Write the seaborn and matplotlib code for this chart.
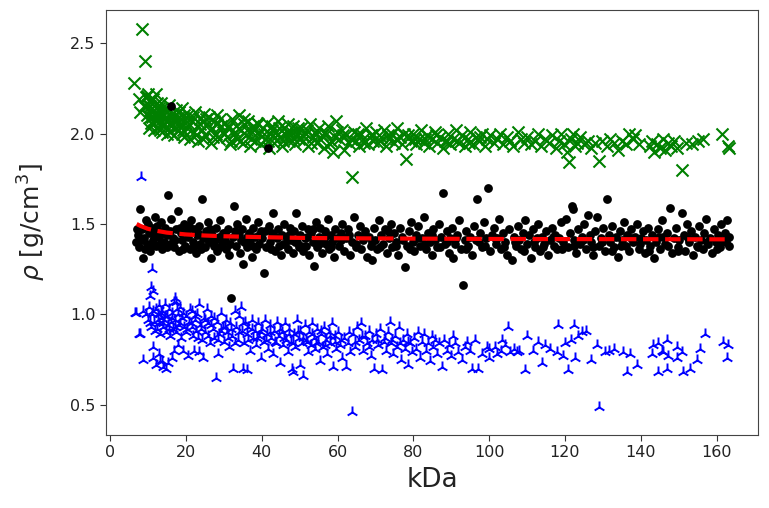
import matplotlib
matplotlib.use("Agg")
import matplotlib.pyplot as plt
import seaborn as sns

# ---------------- data ----------------
green_x = [6.3, 8.4, 9.2, 7.6, 8.0, 9.0, 9.5, 10.0, 10.3, 9.8, 10.5, 10.8,
           9.6, 10.1, 10.4, 10.7, 11.0, 11.2, 11.5, 11.8, 12.0, 12.2, 12.5, 12.8,
           13.1, 13.4, 13.7, 14.0, 14.3, 14.6, 15.0, 15.3, 15.6, 16.0, 16.4, 16.8,
           17.1, 17.5, 17.9, 18.3, 18.7, 19.0, 19.4, 19.8,
           10.2, 11.3, 12.4, 13.3, 13.9, 14.8, 15.8, 17.0, 18.0, 19.2,
           20.2, 20.6, 21.0, 21.5, 22.0, 22.4, 22.9, 23.3, 23.8, 24.2, 24.7, 25.1,
           25.6, 26.0, 26.5, 27.0, 27.4, 27.9, 28.3, 28.8, 29.3, 29.8,
           30.3, 30.8, 31.2, 31.7, 32.2, 32.6, 33.1, 33.6, 34.0, 34.5, 35.0, 35.4,
           35.9, 36.4, 36.9, 37.3, 37.8, 38.3, 38.8, 39.3, 39.8,
           40.3, 40.8, 41.3, 41.8, 42.3, 42.8, 43.3, 43.8, 44.3, 44.8, 45.3, 45.8,
           46.3, 46.8, 47.3, 47.8, 48.3, 48.8, 49.3, 49.8,
           50.4, 51.0, 51.6, 52.2, 52.8, 53.4, 54.0, 54.6, 55.2, 55.8, 56.4, 57.0,
           57.6, 58.2, 58.8, 59.6, 59.9,
           60.5, 61.1, 61.7, 62.3, 62.9, 63.9, 64.4, 65.0, 65.6, 66.2, 66.8, 67.5,
           68.1, 68.8, 69.4,
           70.1, 70.8, 71.5, 72.2, 72.9, 73.6, 74.3, 75.0, 75.7, 76.4, 77.1, 78.0,
           78.6, 79.3,
           80.0, 80.7, 81.4, 82.1, 82.8, 83.5, 84.2, 84.9, 85.6, 86.3, 87.0, 87.7,
           88.4, 89.1, 89.8,
           90.5, 91.2, 92.0, 92.8, 93.5, 94.3, 95.0, 95.8, 96.5, 97.3, 98.0, 98.8, 99.5,
           100.3, 101.2, 102.0, 102.9, 103.7, 104.6, 105.5, 106.4, 107.6, 108.3, 109.2,
           110.1, 111.0, 112.0, 112.9, 113.8, 114.8, 115.7, 116.7, 117.6, 118.5, 119.0, 119.8,
           120.5, 121.0, 121.5, 122.0, 122.6, 123.3, 124.0, 125.0, 126.0, 127.0, 128.0,
           129.0, 129.8,
           131.0, 132.0, 133.0, 134.0, 135.0, 136.0, 137.0, 138.0, 138.6, 139.5,
           142.5, 143.0, 143.5, 144.2, 145.0, 145.8, 146.5, 147.2, 148.0, 148.8, 149.5,
           151.0, 152.0, 153.5, 155.0, 156.5, 161.5, 163.0, 163.2]
green_rho = [2.28, 2.58, 2.40, 2.19, 2.12, 2.15, 2.20, 2.22, 2.18, 2.10, 2.13, 2.06,
             2.21, 2.16, 2.09, 2.19, 2.12, 2.05, 2.15, 2.08, 2.22, 2.11, 2.03, 2.14,
             2.07, 2.17, 2.01, 2.10, 2.05, 2.13, 2.00, 2.08, 2.16, 2.04, 2.11, 1.99,
             2.07, 2.13, 2.02, 2.09, 2.05, 2.14, 1.98, 2.06,
             2.03, 2.19, 2.17, 2.12, 2.04, 2.09, 2.06, 2.10, 2.06, 2.02,
             2.03, 2.10, 1.97, 2.07, 2.01, 2.12, 2.04, 1.96, 2.08, 2.02, 2.11, 1.99,
             2.05, 2.09, 1.95, 2.03, 2.07, 2.00, 2.10, 1.97, 2.04, 2.01,
             2.06, 1.98, 2.03, 1.94, 2.08, 2.00, 2.04, 1.97, 2.10, 2.02, 1.95, 2.05,
             1.99, 2.07, 1.93, 2.01, 2.04, 1.96, 2.06, 2.00, 1.94,
             2.03, 1.97, 2.06, 1.92, 2.00, 2.04, 1.95, 2.01, 2.07, 1.98, 1.93, 2.03,
             1.99, 2.05, 1.96, 2.01, 2.04, 1.94, 2.00, 1.97,
             2.03, 1.96, 2.00, 1.93, 2.05, 1.98, 2.01, 1.95, 2.03, 1.99, 1.92, 2.00,
             2.04, 1.96, 1.90, 2.07, 2.01,
             1.97, 2.02, 1.91, 1.99, 1.95, 1.76, 2.01, 1.96, 1.93, 2.00, 1.97, 2.03,
             1.94, 1.99, 1.96,
             2.01, 1.95, 1.98, 2.02, 1.93, 1.97, 2.00, 1.95, 2.03, 1.98, 1.94, 1.86,
             1.99, 1.96,
             2.00, 1.94, 1.97, 2.02, 1.95, 1.99, 1.93, 1.97, 2.01, 1.95, 1.98, 1.92,
             1.96, 2.00, 1.94,
             1.97, 2.02, 1.95, 1.99, 1.93, 1.97, 2.01, 1.94, 1.98, 1.96, 2.00, 1.93, 1.97,
             1.99, 1.95, 1.97, 2.00, 1.94, 1.98, 1.96, 1.93, 2.01, 1.97, 1.95,
             1.98, 1.94, 1.96, 2.00, 1.93, 1.97, 1.95, 1.99, 1.92, 1.96, 2.00, 1.94,
             1.90, 1.84, 1.97, 2.00, 1.93, 1.95, 1.98, 1.94, 1.96, 1.92, 1.95,
             1.85, 1.96,
             1.93, 1.97, 1.95, 1.91, 1.96, 1.94, 2.00, 1.97, 1.99, 1.94,
             1.93, 1.96, 1.90, 1.94, 1.92, 1.97, 1.91, 1.95, 1.93, 1.96, 1.92,
             1.80, 1.95, 1.94, 1.96, 1.97, 2.00, 1.93, 1.92]
green_x_more = [10.6, 11.1, 11.7, 12.1, 12.7, 13.2, 13.8, 14.4, 15.1, 15.9, 16.6, 17.3,
                18.1, 18.9, 19.6,
                20.9, 21.8, 22.7, 23.6, 24.5, 25.4, 26.3, 27.2, 28.1, 29.0, 30.0, 31.0,
                32.0, 33.0, 34.2, 35.2, 36.2, 37.1, 38.0, 39.0,
                40.6, 41.6, 42.6, 43.6, 44.6, 45.6, 46.6, 47.6, 48.6, 49.6, 50.7, 51.9,
                53.1, 54.3, 55.5, 56.7, 57.9, 59.2,
                61.4, 63.5, 65.3, 67.1, 69.1, 71.2, 73.3, 75.4, 77.5, 80.4, 83.1, 86.0,
                88.8, 91.6, 94.7, 97.7]
green_rho_more = [2.15, 2.09, 2.02, 2.07, 2.10, 2.02, 2.14, 2.08, 2.12, 2.01, 2.07, 2.03,
                  2.12, 2.00, 2.10,
                  2.05, 2.09, 1.99, 2.05, 1.97, 2.08, 2.02, 1.98, 2.05, 2.08, 2.00, 2.04,
                  1.96, 2.01, 1.96, 2.08, 2.02, 1.97, 2.02, 2.05,
                  2.00, 1.96, 2.02, 1.98, 2.03, 1.96, 2.01, 1.99, 1.97, 2.03, 1.99, 2.02,
                  1.95, 2.00, 1.97, 2.01, 1.94, 1.98,
                  1.99, 1.97, 2.00, 1.95, 1.99, 1.96, 1.99, 1.97, 2.00, 1.97, 1.97, 1.99,
                  1.96, 1.96, 1.95, 1.98]

black_x = [6.8, 7.3, 7.6, 8.0, 8.3, 8.7, 9.0, 9.4, 9.8, 10.2, 10.6, 11.0, 11.4, 11.8,
           12.2, 12.6, 13.0, 13.4, 13.8, 14.2, 14.6, 15.0, 15.3, 15.7, 16.0, 16.1,
           16.5, 16.9, 17.3, 17.9, 18.2, 18.6, 19.0, 19.4, 19.8,
           20.2, 20.6, 21.0, 21.4, 21.8, 22.2, 22.6, 23.0, 23.4, 23.8, 24.3, 24.6,
           25.0, 25.4, 25.8, 26.2, 26.6, 27.0, 27.4, 27.8, 28.2, 28.6, 29.0, 29.4, 29.8,
           30.2, 30.6, 31.0, 31.4, 31.9, 32.3, 32.7, 33.1, 33.5, 33.9, 34.3, 34.7,
           35.0, 35.4, 35.8, 36.2, 36.6, 37.0, 37.4, 37.8, 38.2, 38.6, 39.0, 39.4, 39.8,
           40.2, 40.6, 41.0, 41.7, 41.8, 42.2, 42.6, 43.0, 43.4, 43.8, 44.2, 44.6,
           45.0, 45.4, 45.8, 46.2, 46.6, 47.0, 47.4, 47.8, 48.2, 48.6, 49.0, 49.4, 49.8,
           50.2, 50.6, 51.0, 51.4, 51.8, 52.2, 52.6, 53.0, 53.4, 53.8, 54.2, 54.6,
           55.0, 55.4, 55.8, 56.2, 56.6, 57.0, 57.4, 57.8, 58.2, 58.6, 59.0, 59.4, 59.8,
           60.3, 60.8, 61.3, 61.8, 62.3, 62.8, 63.3, 63.8, 64.3, 64.8, 65.3, 65.8,
           66.3, 66.8, 67.3, 67.8, 68.3, 68.8, 69.0, 69.5,
           70.0, 70.5, 71.0, 71.5, 72.0, 72.5, 73.0, 73.5, 74.0, 74.5, 75.0, 75.5,
           76.0, 76.5, 77.0, 77.8, 78.3, 78.8, 79.3, 79.8,
           80.3, 80.8, 81.3, 81.8, 82.3, 82.8, 83.3, 83.8, 84.3, 84.8, 85.3, 85.8,
           86.3, 86.8, 87.3, 87.9, 88.3, 88.8, 89.3, 89.8,
           90.3, 90.5, 91.0, 91.5, 92.0, 92.5, 93.1, 93.5, 94.0, 94.5, 95.0, 95.5,
           96.0, 96.8, 97.2, 97.7, 98.2, 98.7, 99.2, 99.7,
           100.2, 100.7, 101.2, 101.7, 102.2, 102.7, 103.2, 103.7, 104.2, 104.7,
           105.2, 106.0, 106.5, 107.0, 107.5, 108.0, 108.5, 109.0, 109.5, 110.0,
           110.5, 111.0, 111.5, 112.0, 112.5, 113.0, 113.5, 114.0, 114.5, 115.0,
           115.5, 116.0, 116.5, 117.0, 117.5, 118.0, 118.5, 119.0, 119.5, 120.3,
           120.8, 121.4, 121.9, 122.0, 122.5, 123.0, 123.5, 124.0, 124.5, 125.0,
           125.5, 126.0, 126.5, 127.0, 127.5, 128.0, 128.5, 129.0, 129.5, 130.0,
           130.5, 131.0, 131.5, 132.0, 132.5, 133.0, 133.5, 134.0, 134.5, 135.0,
           135.5, 136.0, 136.5, 137.0, 137.5, 138.0, 138.5, 139.0, 139.5, 140.0,
           140.5, 141.0, 141.5, 142.0, 142.5, 143.0, 143.5, 144.0, 144.5, 145.0,
           145.5, 146.0, 146.5, 147.0, 147.8, 148.2, 148.7, 149.2, 149.7, 150.2,
           150.9, 151.3, 151.8, 152.3, 152.8, 153.3, 153.8, 154.3, 154.8, 155.3,
           155.8, 156.3, 156.8, 157.3, 157.8, 158.3, 158.8, 159.3, 159.8, 160.3,
           160.8, 161.3, 161.8, 162.3, 162.8, 163.2, 163.4]
black_rho = [1.40, 1.44, 1.37, 1.58, 1.47, 1.31, 1.42, 1.52, 1.39, 1.45, 1.35, 1.48, 1.41, 1.54,
             1.38, 1.46, 1.43, 1.51, 1.36, 1.40, 1.48, 1.44, 1.66, 1.39, 2.15, 1.53,
             1.42, 1.37, 1.47, 1.57, 1.35, 1.45, 1.41, 1.50, 1.38,
             1.46, 1.43, 1.36, 1.52, 1.40, 1.47, 1.34, 1.44, 1.49, 1.39, 1.64, 1.42,
             1.37, 1.46, 1.51, 1.40, 1.31, 1.44, 1.38, 1.48, 1.35, 1.43, 1.52, 1.39, 1.45,
             1.41, 1.36, 1.47, 1.33, 1.09, 1.43, 1.60, 1.38, 1.50, 1.44, 1.34, 1.47,
             1.28, 1.40, 1.53, 1.37, 1.45, 1.41, 1.32, 1.48, 1.43, 1.36, 1.51, 1.39, 1.46,
             1.42, 1.23, 1.37, 1.92, 1.49, 1.40, 1.45, 1.56, 1.35, 1.43, 1.47, 1.38,
             1.33, 1.44, 1.50, 1.39, 1.42, 1.36, 1.48, 1.41, 1.34, 1.46, 1.56, 1.40, 1.37,
             1.44, 1.49, 1.35, 1.42, 1.38, 1.47, 1.33, 1.45, 1.40, 1.27, 1.51, 1.37,
             1.43, 1.48, 1.34, 1.41, 1.46, 1.39, 1.53, 1.36, 1.44, 1.40, 1.32, 1.47, 1.42,
             1.38, 1.45, 1.50, 1.35, 1.42, 1.47, 1.33, 1.40, 1.54, 1.37, 1.44, 1.49,
             1.36, 1.41, 1.46, 1.32, 1.43, 1.38, 1.30, 1.48,
             1.41, 1.36, 1.52, 1.44, 1.39, 1.47, 1.34, 1.42, 1.50, 1.37, 1.45, 1.40,
             1.33, 1.48, 1.43, 1.26, 1.38, 1.46, 1.51, 1.40,
             1.35, 1.44, 1.49, 1.38, 1.42, 1.54, 1.36, 1.45, 1.40, 1.33, 1.47, 1.41,
             1.37, 1.50, 1.43, 1.67, 1.39, 1.46, 1.34, 1.42,
             1.48, 1.31, 1.39, 1.44, 1.52, 1.36, 1.16, 1.41, 1.46, 1.38, 1.43, 1.33,
             1.49, 1.64, 1.40, 1.45, 1.37, 1.51, 1.42, 1.70,
             1.35, 1.44, 1.48, 1.39, 1.42, 1.53, 1.36, 1.45, 1.40, 1.33,
             1.47, 1.30, 1.43, 1.38, 1.49, 1.41, 1.36, 1.45, 1.52, 1.39,
             1.44, 1.31, 1.47, 1.37, 1.42, 1.50, 1.35, 1.43, 1.39, 1.46,
             1.33, 1.41, 1.48, 1.38, 1.44, 1.36, 1.42, 1.51, 1.40, 1.53,
             1.37, 1.45, 1.60, 1.58, 1.41, 1.34, 1.47, 1.39, 1.43, 1.50,
             1.36, 1.55, 1.44, 1.40, 1.33, 1.46, 1.54, 1.38, 1.42, 1.48,
             1.35, 1.64, 1.44, 1.40, 1.49, 1.37, 1.43, 1.32, 1.46, 1.41,
             1.51, 1.38, 1.44, 1.35, 1.47, 1.40, 1.43, 1.50, 1.36, 1.42,
             1.46, 1.34, 1.41, 1.48, 1.38, 1.44, 1.31, 1.40, 1.47, 1.36,
             1.52, 1.43, 1.39, 1.45, 1.59, 1.34, 1.42, 1.48, 1.37, 1.41,
             1.56, 1.44, 1.35, 1.50, 1.40, 1.46, 1.33, 1.43, 1.38, 1.49,
             1.41, 1.36, 1.45, 1.53, 1.39, 1.42, 1.34, 1.47, 1.40, 1.44,
             1.37, 1.50, 1.41, 1.45, 1.52, 1.38, 1.43]
black_x_more = [7.0, 8.5, 9.2, 10.0, 10.9, 11.6, 12.4, 13.2, 14.0, 14.9, 15.9, 17.1,
                18.4, 19.2,
                20.8, 22.0, 23.2, 24.0, 25.2, 26.4, 27.6, 28.9, 30.4, 31.6, 32.9, 34.5,
                36.0, 37.6, 39.2, 40.8, 42.4, 44.0, 45.6, 47.2, 48.8, 50.4, 52.0, 53.6,
                55.2, 56.8, 58.4,
                61.0, 63.0, 65.0, 67.0, 69.2, 71.3, 73.3, 75.3, 77.3, 79.0,
                81.0, 83.0, 85.0, 87.0, 89.0, 91.2, 93.8, 96.5, 99.0, 101.5,
                104.0, 106.8, 109.3, 111.8, 114.3, 116.8, 119.3, 122.3, 124.8, 127.3,
                129.8, 132.3, 134.8, 137.3, 139.8, 142.3, 144.8, 147.3, 149.9, 152.6,
                155.1, 157.6, 160.1, 162.6]
black_rho_more = [1.47, 1.41, 1.36, 1.50, 1.39, 1.44, 1.49, 1.39, 1.45, 1.37, 1.46, 1.41,
                  1.48, 1.36,
                  1.49, 1.38, 1.45, 1.36, 1.42, 1.47, 1.41, 1.37, 1.45, 1.39, 1.46, 1.41,
                  1.43, 1.38, 1.44, 1.46, 1.36, 1.42, 1.39, 1.44, 1.40, 1.38, 1.43, 1.47,
                  1.39, 1.43, 1.37,
                  1.41, 1.44, 1.39, 1.43, 1.40, 1.37, 1.46, 1.38, 1.41, 1.36,
                  1.42, 1.39, 1.44, 1.37, 1.40, 1.42, 1.36, 1.41, 1.38, 1.42,
                  1.37, 1.40, 1.35, 1.40, 1.37, 1.43, 1.36, 1.38, 1.41, 1.37,
                  1.40, 1.35, 1.38, 1.42, 1.39, 1.35, 1.43, 1.38, 1.35, 1.42,
                  1.37, 1.40, 1.36, 1.40]

blue_x = [6.6, 8.2, 8.7, 7.9, 8.7, 11.1, 10.7, 11.3, 10.4, 11.4, 9.5, 10.0, 10.3,
          10.8, 11.0, 11.6, 12.0, 6.9, 7.7, 11.3, 12.2, 13.2, 14.8,
          12.3, 12.5, 12.8, 13.0, 13.2, 13.5, 13.7, 14.0, 14.0, 14.2, 14.5, 14.7,
          15.0, 15.2, 15.5, 15.8, 16.0, 16.3, 16.6, 16.9, 17.2, 17.5, 17.8, 18.1,
          18.4, 18.7, 19.0, 19.3, 19.6, 12.9, 13.6, 15.3, 16.4, 18.0, 17.0, 17.5, 16.9,
          20.0, 20.4, 20.6, 21.0, 21.3, 21.5, 21.8, 22.0, 22.3, 22.7, 23.0, 23.5,
          23.5, 23.8, 24.2, 24.5, 24.7, 25.1, 25.5, 25.9, 26.3, 26.7, 27.1, 27.5,
          28.0, 28.5, 28.2, 28.8, 29.3, 29.7,
          30.1, 30.5, 30.9, 31.3, 31.7, 32.1, 32.5, 32.9, 33.3, 33.7, 34.1, 34.5,
          34.9, 35.0, 35.3, 35.7, 36.0, 36.1, 36.5, 36.9, 37.3, 37.7, 38.1, 38.5,
          38.9, 39.3, 39.7,
          40.1, 40.5, 40.9, 41.3, 41.7, 42.1, 42.5, 42.9, 43.3, 43.7, 44.1, 44.5,
          44.9, 45.3, 45.7, 46.1, 46.5, 46.9, 47.3, 47.7, 48.1, 48.5, 48.9, 49.3, 49.7,
          48.3, 50.0,
          50.1, 50.5, 51.0, 51.3, 51.7, 52.1, 52.5, 52.9, 53.3, 53.7, 54.1, 54.5,
          54.9, 55.3, 55.7, 56.1, 56.5, 56.9, 57.3, 57.7, 58.1, 58.5, 58.9, 59.3, 59.7,
          60.2, 60.7, 61.2, 61.7, 62.2, 62.7, 63.2, 63.9, 64.2, 64.7, 65.2, 65.7,
          66.2, 66.7, 67.2, 67.7, 68.2, 68.7, 69.2, 69.7,
          70.2, 70.7, 71.2, 71.7, 72.2, 72.7, 73.2, 73.9, 74.2, 74.7, 75.2, 75.7,
          76.2, 76.7, 77.2, 77.7, 78.2, 78.7, 79.2, 79.7,
          80.3, 80.8, 81.3, 81.8, 82.3, 82.8, 83.3, 83.8, 84.3, 84.8, 85.3, 85.8,
          86.3, 86.8, 87.6, 88.2, 88.8, 89.4, 90.0,
          90.5, 91.0, 91.8, 92.9, 93.5, 94.2, 95.0, 95.5, 96.3, 97.0, 98.0, 99.5,
          100.0, 100.0, 101.5, 102.2, 103.0, 103.4, 104.2, 105.0, 105.5, 106.5,
          107.3, 108.0, 109.5, 110.0, 111.5, 113.0, 114.0, 114.8, 116.0, 118.0,
          118.2, 119.5, 120.0, 120.8, 121.5, 122.4, 122.7, 123.5, 124.6, 125.5,
          127.0, 128.5, 129.0, 130.6, 131.5, 133.0, 135.4, 136.4, 137.2, 139.0,
          143.0, 143.3, 144.5, 144.6, 145.6, 146.0, 147.0, 147.0, 147.3, 149.6,
          149.6, 151.0, 151.2, 153.0, 154.9, 155.7, 157.0, 161.7, 163.0, 162.8]
blue_rho = [1.01, 1.76, 1.02, 0.89, 0.75, 1.25, 1.15, 1.13, 1.10, 0.82, 1.00, 0.97, 1.04,
            0.93, 1.00, 0.96, 1.03, 1.01, 0.89, 0.76, 0.72, 0.74, 0.70,
            0.92, 1.00, 0.95, 1.05, 0.89, 0.98, 1.02, 0.93, 0.71, 0.97, 1.06, 0.90,
            0.99, 0.94, 1.03, 0.88, 0.96, 1.01, 0.92, 1.07, 0.97, 0.90, 1.00, 0.94,
            1.04, 0.87, 0.98, 0.80, 0.93, 0.78, 0.74, 0.73, 0.76, 0.83, 1.09, 1.07, 0.80,
            0.99, 0.92, 0.77, 1.03, 0.95, 1.02, 0.88, 0.80, 0.97, 0.91, 1.00, 1.06,
            0.79, 0.94, 0.86, 0.76, 0.98, 0.90, 1.03, 0.95, 0.84, 0.99, 0.92, 0.87,
            0.65, 0.78, 0.96, 0.89, 1.01, 0.93,
            0.85, 0.97, 0.90, 0.82, 0.95, 0.88, 0.70, 1.02, 0.93, 0.86, 0.99, 1.04,
            0.91, 0.70, 0.84, 0.96, 0.69, 0.89, 0.93, 0.80, 0.97, 0.87, 0.91, 0.83,
            0.95, 0.88, 0.76,
            0.92, 0.85, 0.97, 0.89, 0.81, 0.94, 0.87, 0.78, 0.91, 0.84, 0.96, 0.88,
            0.73, 0.90, 0.83, 0.95, 0.86, 0.79, 0.92, 0.85, 0.70, 0.89, 0.82, 0.97, 0.87,
            0.68, 0.72,
            0.91, 0.84, 0.66, 0.94, 0.86, 0.79, 0.90, 0.83, 0.95, 0.87, 0.81, 0.92,
            0.85, 0.74, 0.89, 0.82, 0.93, 0.86, 0.78, 0.90, 0.84, 0.95, 0.71, 0.88, 0.81,
            0.90, 0.83, 0.76, 0.87, 0.71, 0.84, 0.79, 0.46, 0.89, 0.82, 0.93, 0.86,
            0.95, 0.80, 0.88, 0.84, 0.91, 0.77, 0.86, 0.70,
            0.89, 0.83, 0.92, 0.69, 0.85, 0.80, 0.90, 0.96, 0.84, 0.78, 0.88, 0.82,
            0.93, 0.75, 0.86, 0.81, 0.89, 0.72, 0.84, 0.79,
            0.87, 0.81, 0.90, 0.76, 0.85, 0.89, 0.80, 0.84, 0.74, 0.88, 0.82, 0.86,
            0.78, 0.84, 0.71, 0.86, 0.80, 0.83, 0.77,
            0.88, 0.84, 0.79, 0.75, 0.82, 0.85, 0.80, 0.70, 0.86, 0.70, 0.78, 0.82,
            0.76, 0.81, 0.82, 0.78, 0.80, 0.86, 0.83, 0.93, 0.79, 0.81,
            0.79, 0.80, 0.69, 0.88, 0.80, 0.85, 0.73, 0.83, 0.81, 0.79,
            0.94, 0.77, 0.84, 0.69, 0.86, 0.94, 0.76, 0.88, 0.90, 0.91,
            0.75, 0.83, 0.49, 0.79, 0.80, 0.81, 0.79, 0.68, 0.78, 0.72,
            0.78, 0.83, 0.84, 0.68, 0.80, 0.79, 0.86, 0.70, 0.77, 0.82,
            0.76, 0.79, 0.68, 0.70, 0.75, 0.81, 0.89, 0.85, 0.83, 0.76]
blue_x_more = [10.5, 11.2, 11.9, 12.6, 13.3, 13.9, 14.6, 15.4, 16.2, 17.0,
               17.7, 18.5, 19.2, 19.9, 20.8, 21.7, 22.5, 23.3, 24.1, 25.0,
               25.8, 26.6, 27.4, 28.4, 29.2, 30.3, 31.1, 32.0, 33.0, 33.9,
               35.1, 36.3, 37.5, 38.7, 39.9, 41.1, 42.3, 43.5, 44.7, 45.9,
               47.1, 48.3, 49.5, 50.8, 52.0, 53.2, 54.4, 55.6, 56.8, 58.0,
               59.2, 61.0, 62.9, 64.6, 66.5, 68.4, 70.5, 72.4, 74.5, 76.4, 78.5]
blue_rho_more = [0.95, 1.02, 0.91, 0.97, 1.01, 0.95, 0.99, 0.92, 0.98, 0.93,
                 1.03, 0.95, 1.01, 0.90, 0.96, 0.93, 0.99, 0.87, 0.92, 0.97,
                 0.88, 0.94, 0.98, 0.86, 0.91, 0.93, 0.87, 0.92, 0.84, 0.90,
                 0.95, 0.86, 0.92, 0.87, 0.90, 0.86, 0.90, 0.85, 0.92, 0.87,
                 0.89, 0.84, 0.91, 0.87, 0.85, 0.89, 0.84, 0.91, 0.83, 0.88,
                 0.85, 0.86, 0.90, 0.85, 0.88, 0.82, 0.86, 0.87, 0.86, 0.84, 0.85]

fit_x = [7, 8, 10, 12, 15, 20, 25, 30, 40, 50, 60, 80, 100, 130, 163]
fit_rho = [1.500, 1.489, 1.473, 1.463, 1.452, 1.442, 1.436, 1.432, 1.427,
           1.423, 1.421, 1.419, 1.417, 1.416, 1.415]

xticks = [0, 20, 40, 60, 80, 100, 120, 140, 160]
yticks = [0.5, 1.0, 1.5, 2.0, 2.5]

# ---------------- plot ----------------
plt.rcParams['font.family'] = ['DejaVu Sans']
fig = plt.figure(figsize=(7.69, 5.08), dpi=100)
ax = fig.add_axes([0.138, 0.144, 0.848, 0.836])

sns.scatterplot(x=green_x + green_x_more, y=green_rho + green_rho_more, ax=ax,
                marker='x', color='green', s=75, linewidth=1.5, zorder=2)
sns.scatterplot(x=blue_x + blue_x_more, y=blue_rho + blue_rho_more, ax=ax,
                marker='2', color='blue', s=75, linewidth=1.4, zorder=3)
sns.scatterplot(x=black_x + black_x_more, y=black_rho + black_rho_more, ax=ax,
                marker='o', color='black', s=40, linewidth=0, zorder=4)
sns.lineplot(x=fit_x, y=fit_rho, ax=ax, color='red', linewidth=3,
             linestyle='--', zorder=5)

ax.set_xlim(-1.06, 171)
ax.set_ylim(0.334, 2.682)
ax.set_xticks(xticks)
ax.set_yticks(yticks)
ax.set_xticklabels([str(t) for t in xticks])
ax.set_yticklabels([f"{t:.1f}" for t in yticks])
ax.tick_params(labelsize=11.5, length=4, colors='#333333', labelcolor='#222222')
for sp in ax.spines.values():
    sp.set_color('#444444')
ax.set_xlabel('kDa', fontsize=19, color='#222222', labelpad=5)
ax.set_ylabel(r'$\rho$ [g/cm$^3$]', fontsize=18, color='#222222', labelpad=16)

fig.savefig('out.png', dpi=100)
